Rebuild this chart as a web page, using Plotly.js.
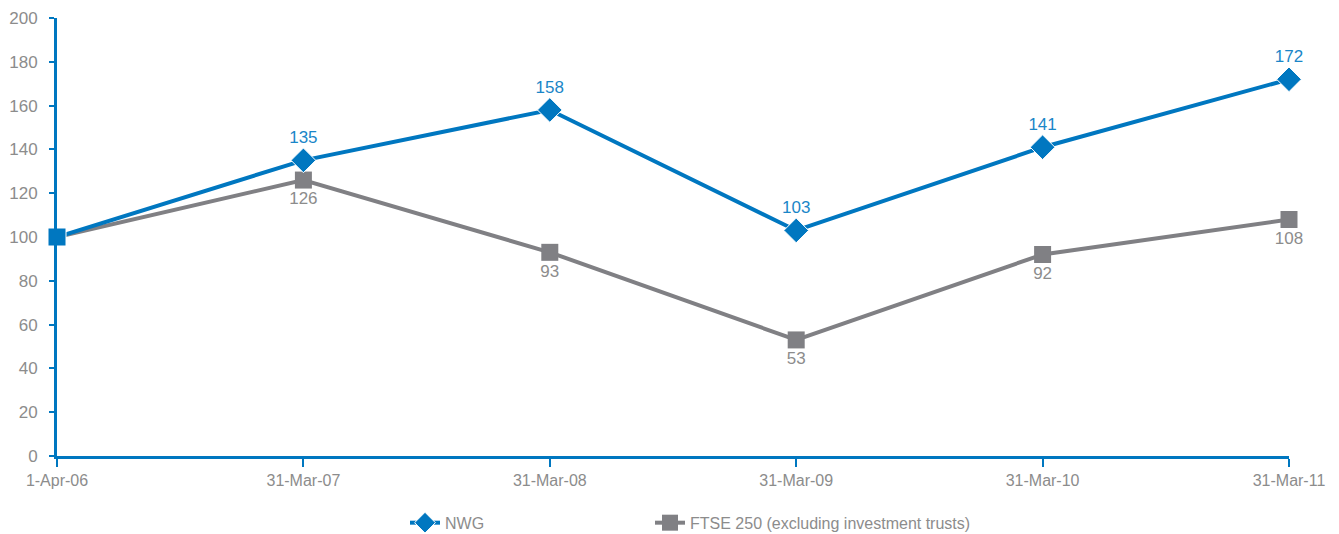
<!DOCTYPE html>
<html>
<head>
<meta charset="utf-8">
<script src="https://cdn.plot.ly/plotly-3.0.1.min.js"></script>
<style>html,body{margin:0;padding:0;background:#fff;}#chart{width:1339px;height:534px;}</style>
</head>
<body>
<div id="chart"></div>
<script>
const categories = ['1-Apr-06','31-Mar-07','31-Mar-08','31-Mar-09','31-Mar-10','31-Mar-11'];
const nwg = [100, 135, 158, 103, 141, 172];
const ftse = [100, 126, 93, 53, 92, 108];
const nwgLabels = ['', '135', '158', '103', '141', '172'];
const ftseLabels = ['', '126', '93', '53', '92', '108'];
const yTicks = [0, 20, 40, 60, 80, 100, 120, 140, 160, 180, 200];

const BLUE = '#0077C0';
const GREY = '#808084';
const TXT = '#8c8c8c';
const FONT = 'Liberation Sans, Arial, sans-serif';
const xIdx = categories.map((c, i) => i);

// NWG drawn in reverse order so its legend glyph shows the diamond (first drawn point)
const rev = a => a.slice().reverse();
const nwgSymbols = xIdx.map(i => i === 0 ? 'square' : 'diamond');
const nwgSizes = xIdx.map(i => i === 0 ? 18 : 19);

const traces = [
  {
    x: xIdx, y: ftse, name: 'FTSE 250 (excluding investment trusts)', legend: 'legend2',
    mode: 'lines+markers+text', text: ftseLabels, textposition: 'bottom center',
    textfont: {color: TXT, size: 17, family: FONT},
    line: {color: GREY, width: 4},
    marker: {symbol: 'square', size: 17, color: GREY, opacity: 1},
    cliponaxis: false
  },
  {
    x: rev(xIdx), y: rev(nwg), name: 'NWG', legend: 'legend',
    mode: 'lines+markers+text', text: rev(nwgLabels), textposition: 'top center',
    textfont: {color: '#1a86c8', size: 17, family: FONT},
    line: {color: BLUE, width: 4},
    marker: {symbol: rev(nwgSymbols), size: rev(nwgSizes), color: BLUE, opacity: 1},
    cliponaxis: false
  }
];

const legendCommon = {orientation: 'h', yref: 'container', y: 0.021, yanchor: 'middle',
  xref: 'container', xanchor: 'left', font: {size: 16, color: TXT, family: FONT},
  itemwidth: 30, bgcolor: 'rgba(0,0,0,0)'};

const layout = {
  width: 1339, height: 534,
  margin: {l: 57, r: 50, t: 18, b: 78},
  paper_bgcolor: '#fff', plot_bgcolor: '#fff',
  font: {family: FONT, color: TXT, size: 16},
  showlegend: true,
  legend: Object.assign({}, legendCommon, {x: 405 / 1339}),
  legend2: Object.assign({}, legendCommon, {x: 650 / 1339}),
  xaxis: {
    range: [0, 5], tickmode: 'array', tickvals: xIdx, ticktext: categories,
    showgrid: false, zeroline: false, showline: true, linecolor: BLUE, linewidth: 3,
    ticks: 'outside', ticklen: 8, tickcolor: BLUE, tickwidth: 2, automargin: false,
    tickfont: {size: 16, color: TXT, family: FONT}, fixedrange: true
  },
  yaxis: {
    range: [0, 200], tickmode: 'array', tickvals: yTicks,
    showgrid: false, zeroline: false, showline: true, linecolor: BLUE, linewidth: 3,
    ticks: 'outside', ticklen: 5, tickcolor: BLUE, tickwidth: 2, automargin: false,
    ticklabelstandoff: 8,
    tickfont: {size: 17, color: TXT, family: FONT}, fixedrange: true
  }
};

Plotly.newPlot('chart', traces, layout, {displayModeBar: false, staticPlot: true});
</script>
</body>
</html>
